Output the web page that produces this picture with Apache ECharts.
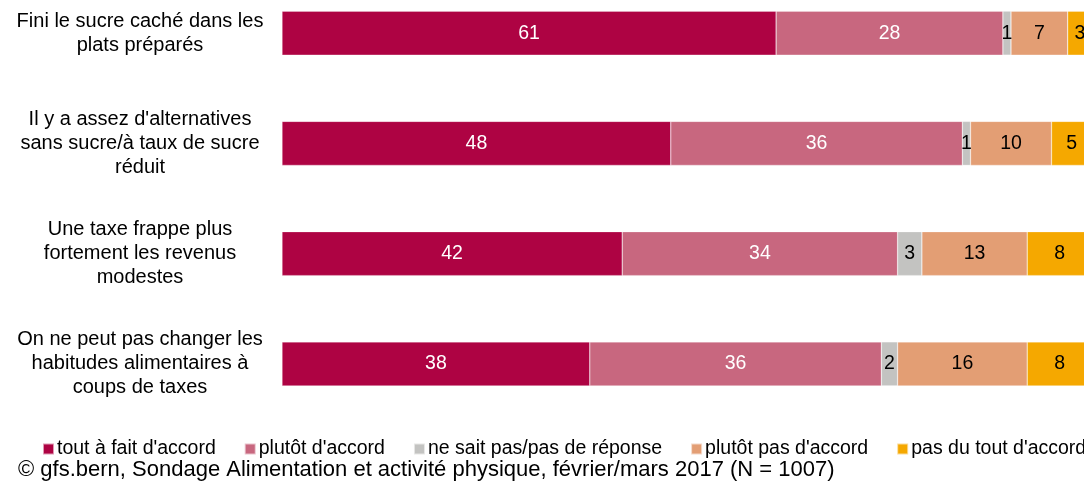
<!DOCTYPE html>
<html><head><meta charset="utf-8">
<script src="https://cdn.jsdelivr.net/npm/echarts@6/dist/echarts.min.js"></script>
<style>html,body{margin:0;padding:0;background:#fff}#c{width:1084px;height:483px}</style>
</head><body><div id="c"></div>
<script>
const categories = [
  "Fini le sucre caché dans les\nplats préparés",
  "Il y a assez d'alternatives\nsans sucre/à taux de sucre\nréduit",
  "Une taxe frappe plus\nfortement les revenus\nmodestes",
  "On ne peut pas changer les\nhabitudes alimentaires à\ncoups de taxes"
];
const seriesNames = ["tout à fait d'accord","plutôt d'accord","ne sait pas/pas de réponse","plutôt pas d'accord","pas du tout d'accord"];
const toutAFait = [61,48,42,38];
const plutotAccord = [28,36,34,36];
const neSaitPas = [1,1,3,2];
const plutotPas = [7,10,13,16];
const pasDuTout = [3,5,8,8];
const colors = ["#AE0343","#C8677F","#C3C3C1","#E39E74","#F5A800"];
const labelColors = ["#ffffff","#ffffff","#000000","#000000","#000000"];
const sourceText = "© gfs.bern, Sondage Alimentation et activité physique, février/mars 2017 (N = 1007)";

const values = [toutAFait, plutotAccord, neSaitPas, plutotPas, pasDuTout];
const chart = echarts.init(document.getElementById('c'), null, {renderer:'canvas'});
const FF = "'Liberation Sans', Arial, sans-serif";
chart.setOption({
  animation:false,
  textStyle:{fontFamily:FF},
  grid:{left:282, top:-22, width:810, height:441, outerBoundsMode:'none', containLabel:false},
  xAxis:{type:'value', min:0, max:100, show:false},
  yAxis:{type:'category', data:categories, inverse:true,
    axisLine:{show:false}, axisTick:{show:false},
    axisLabel:{align:'center', margin:142, fontSize:20, lineHeight:24, color:'#000', fontFamily:FF, padding:[3,0,0,0]}},
  legend:{left:37, top:434, width:2000, itemWidth:11, itemHeight:11, itemGap:28, icon:'rect',
    textStyle:{fontSize:19.5, color:'#000', fontFamily:FF, padding:[0,0,0,-2]}, data:seriesNames},
  graphic:[{type:'text', left:18, top:459, style:{text:sourceText, font:"22px 'Liberation Sans', Arial, sans-serif", fill:'#000'}}],
  series: seriesNames.map((n,i)=>({
    name:n, type:'bar', stack:'total', barWidth:44, data:values[i],
    itemStyle:{color:colors[i], borderColor:'rgba(255,255,255,0.6)', borderWidth:0.5},
    label:{show:true, position:'inside', color:labelColors[i], fontSize:19.5, fontFamily:FF}
  }))
});
</script></body></html>
